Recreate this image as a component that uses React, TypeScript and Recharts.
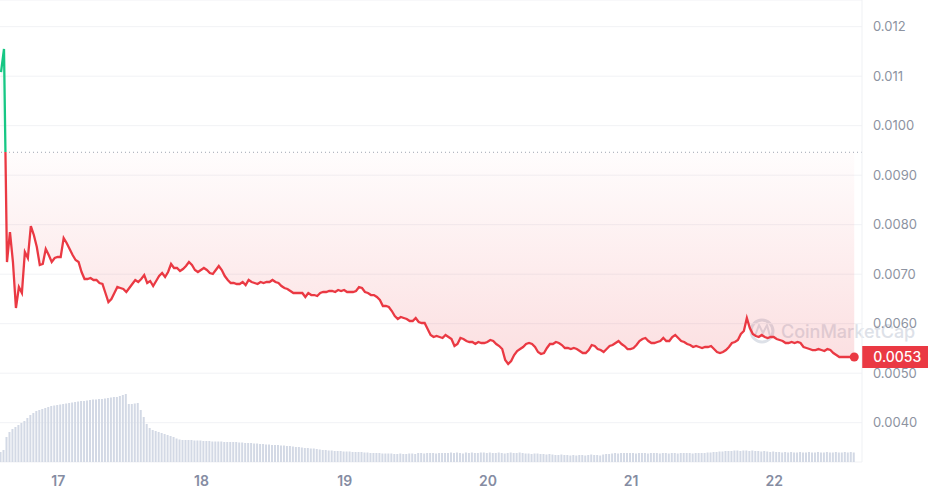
import {
  ComposedChart,
  Area,
  Line,
  Bar,
  XAxis,
  YAxis,
  CartesianGrid,
  ReferenceLine,
  ReferenceDot,
} from 'recharts';

const RED = '#ea3943';
const GREEN = '#16c784';
const AXIS_TEXT = '#8d93a1';

// half-hourly points, hours relative to the 17th 00:00
const START_HOUR = -9.6;
const STEP_HOURS = 0.5;
const BASELINE = 0.009463;

const DAY_TICKS = [0, 24, 48, 72, 96, 120];
const DAY_LABELS = ['17', '18', '19', '20', '21', '22'];

const PRICE_TICKS = [0.004, 0.005, 0.006, 0.007, 0.008, 0.009, 0.01, 0.011, 0.012];
const PRICE_TICK_LABELS = ['0.0040', '0.0050', '0.0060', '0.0070', '0.0080', '0.0090', '0.0100', '0.011', '0.012'];

const PRICES = [
  0.011084, 0.011549, 0.007246, 0.007852, 0.007246, 0.006317, 0.006741, 0.00662, 0.007448, 0.007327,
  0.007973, 0.007792, 0.007549, 0.007186, 0.007206, 0.007509, 0.007387, 0.007246, 0.007327, 0.007347,
  0.007347, 0.007731, 0.00763, 0.007509, 0.007387, 0.007286, 0.007246, 0.007044, 0.006903, 0.006903,
  0.006923, 0.006883, 0.006883, 0.006822, 0.006802, 0.00662, 0.006438, 0.006499, 0.00662, 0.006741,
  0.006721, 0.006701, 0.00664, 0.006721, 0.006802, 0.006883, 0.006842, 0.006903, 0.006983, 0.006822,
  0.006862, 0.006761, 0.006862, 0.006963, 0.007024, 0.006943, 0.007044, 0.007206, 0.007125, 0.007125,
  0.007064, 0.007105, 0.007165, 0.007246, 0.007186, 0.007085, 0.007044, 0.007085, 0.007125, 0.007085,
  0.007024, 0.007004, 0.007085, 0.007165, 0.007085, 0.006963, 0.006883, 0.006822, 0.006822, 0.006802,
  0.006802, 0.006842, 0.006781, 0.006883, 0.006842, 0.006822, 0.006802, 0.006842, 0.006822, 0.006842,
  0.006842, 0.006883, 0.006842, 0.006822, 0.006761, 0.006721, 0.006701, 0.00666, 0.00662, 0.00662,
  0.00662, 0.00662, 0.006539, 0.00662, 0.006579, 0.006579, 0.006559, 0.00662, 0.00664, 0.00664,
  0.00666, 0.00666, 0.00664, 0.00668, 0.00666, 0.00668, 0.00664, 0.00664, 0.00664, 0.00666,
  0.006741, 0.006721, 0.00664, 0.00662, 0.006579, 0.006579, 0.006539, 0.006478, 0.006357, 0.006357,
  0.006337, 0.006256, 0.006155, 0.006095, 0.006135, 0.006115, 0.006095, 0.006054, 0.006054, 0.006115,
  0.006034, 0.006014, 0.006014, 0.005893, 0.005772, 0.005731, 0.005751, 0.005731, 0.005711, 0.005772,
  0.005731, 0.005691, 0.005549, 0.00559, 0.005711, 0.005691, 0.00565, 0.00563, 0.00563, 0.00559,
  0.00563, 0.00561, 0.00561, 0.00563, 0.00567, 0.00565, 0.00559, 0.005549, 0.005488, 0.005266,
  0.005186, 0.005246, 0.005367, 0.005448, 0.005488, 0.005529, 0.00559, 0.00561, 0.00559, 0.005529,
  0.005428, 0.005387, 0.005408, 0.005509, 0.00559, 0.00559, 0.00563, 0.00561, 0.005569, 0.005509,
  0.005509, 0.005488, 0.005509, 0.005488, 0.005448, 0.005408, 0.005408, 0.005468, 0.005569, 0.005549,
  0.005488, 0.005468, 0.005428, 0.005488, 0.005549, 0.005569, 0.00561, 0.00565, 0.00559, 0.005549,
  0.005488, 0.005488, 0.005509, 0.005569, 0.00565, 0.005691, 0.005711, 0.00565, 0.00561, 0.00561,
  0.00563, 0.00565, 0.005711, 0.00565, 0.00565, 0.005731, 0.005772, 0.005711, 0.00565, 0.00563,
  0.00559, 0.005569, 0.005529, 0.005549, 0.005529, 0.005509, 0.005529, 0.005529, 0.005549, 0.005488,
  0.005428, 0.005408, 0.005428, 0.005468, 0.005529, 0.00561, 0.00563, 0.00567, 0.005792, 0.005852,
  0.006115, 0.005913, 0.005792, 0.005751, 0.005731, 0.005772, 0.005731, 0.005711, 0.005731, 0.005731,
  0.005691, 0.00567, 0.00565, 0.00561, 0.00561, 0.00563, 0.00561, 0.00563, 0.00561, 0.005529,
  0.005509, 0.005488, 0.005468, 0.005468, 0.005488, 0.005468, 0.005448, 0.005488, 0.005468, 0.005408,
  0.005367, 0.005327, 0.005327, 0.005327, 0.005327, 0.005327, 0.005327,
];

// volume, millions per half hour
const VOLUMES = [
  1.0, 1.2, 2.5, 3.0, 3.3, 3.5, 3.7, 3.9, 4.1, 4.4,
  4.7, 4.9, 5.1, 5.2, 5.3, 5.4, 5.5, 5.6, 5.65, 5.7,
  5.75, 5.8, 5.85, 5.9, 5.95, 6.0, 6.05, 6.1, 6.1, 6.15,
  6.2, 6.25, 6.25, 6.3, 6.3, 6.35, 6.4, 6.45, 6.5, 6.5,
  6.6, 6.7, 6.8, 5.8, 5.8, 5.85, 5.9, 5.2, 4.5, 3.8,
  3.4, 3.2, 3.1, 3.0, 2.9, 2.8, 2.7, 2.6, 2.5, 2.35,
  2.25, 2.2, 2.2, 2.2, 2.2, 2.15, 2.15, 2.15, 2.1, 2.1,
  2.1, 2.05, 2.05, 2.05, 2.05, 2.0, 2.0, 2.0, 2.0, 2.0,
  1.95, 1.95, 1.9, 1.9, 1.9, 1.85, 1.85, 1.8, 1.8, 1.75,
  1.75, 1.7, 1.7, 1.7, 1.65, 1.65, 1.6, 1.6, 1.55, 1.5,
  1.5, 1.45, 1.4, 1.4, 1.35, 1.35, 1.3, 1.25, 1.2, 1.2,
  1.15, 1.15, 1.1, 1.1, 1.1, 1.05, 1.05, 1.05, 1.0, 1.0,
  1.0, 1.0, 0.95, 0.95, 0.9, 0.9, 0.9, 0.9, 0.85, 0.85,
  0.85, 0.85, 0.8, 0.8, 0.85, 0.8, 0.8, 0.85, 0.85, 0.8,
  0.9, 0.9, 0.85, 0.9, 0.9, 0.9, 0.85, 0.9, 0.9, 0.9,
  0.9, 0.95, 0.9, 0.95, 0.9, 0.85, 0.95, 0.9, 0.95, 0.9,
  0.9, 0.95, 0.95, 0.9, 0.95, 0.9, 0.9, 0.95, 0.9, 0.85,
  0.9, 0.95, 0.9, 0.9, 0.95, 0.9, 0.85, 0.85, 0.8, 0.85,
  0.85, 0.8, 0.8, 0.75, 0.8, 0.75, 0.7, 0.7, 0.75, 0.7,
  0.7, 0.65, 0.7, 0.65, 0.7, 0.7, 0.65, 0.7, 0.75, 0.7,
  0.7, 0.65, 0.75, 0.8, 0.8, 0.85, 0.9, 0.85, 0.9, 0.9,
  0.9, 0.9, 0.9, 0.85, 0.9, 0.9, 0.9, 0.85, 0.9, 0.9,
  0.9, 0.85, 0.9, 0.9, 0.85, 0.9, 0.9, 0.85, 0.9, 0.9,
  0.9, 0.9, 0.85, 0.9, 0.9, 0.9, 0.9, 0.95, 0.95, 1.0,
  1.0, 1.05, 1.05, 1.1, 1.1, 1.1, 1.15, 1.15, 1.1, 1.15,
  1.15, 1.1, 1.15, 1.1, 1.1, 1.05, 1.1, 1.05, 1.0, 1.05,
  1.0, 1.0, 0.95, 1.0, 0.95, 1.0, 0.95, 0.95, 1.0, 0.95,
  0.95, 1.0, 0.95, 0.95, 1.0, 0.95, 0.95, 1.0, 0.95, 0.95,
  1.0, 0.95, 0.95, 1.0, 0.95, 1.0, 0.95,
];

const rows = PRICES.map((price, i) => ({
  t: START_HOUR + i * STEP_HOURS,
  price,
  volume: VOLUMES[i] ?? 0,
}));

const last = rows[rows.length - 1];
const maxP = Math.max(...PRICES);
const minP = Math.min(...PRICES);
const splitOffset = (maxP - BASELINE) / (maxP - minP);

const PriceTick = (props: any) => {
  const { x, y, payload } = props;
  const idx = PRICE_TICKS.indexOf(payload.value);
  return (
    <text x={x} y={y} dy="0.355em" textAnchor="start" fill={AXIS_TEXT} fontSize={13}>
      {idx >= 0 ? PRICE_TICK_LABELS[idx] : payload.value}
    </text>
  );
};

const LastPriceMarker = (props: any) => {
  const { cx, cy } = props;
  return (
    <g>
      <circle cx={cx} cy={cy} r={4.5} fill={RED} />
      <rect x={cx + 8} y={cy - 11} width={70} height={22} fill={RED} />
      <text x={cx + 19} y={cy} dy="0.355em" fill="#fff" fontSize={14} fontWeight={500}>
        {last.price.toFixed(4)}
      </text>
    </g>
  );
};

function Watermark() {
  return (
    <svg width={928} height={495} style={{ position: 'absolute', left: 0, top: 0 }}>
      <g fill="none" stroke="#dde1e8" strokeWidth={3}>
        <circle cx={762} cy={331} r={11} />
        <path d="M755 336 L759 325 L763 333 L767 325 L770 336" strokeWidth={2} />
      </g>
      <text x={781} y={338} fontSize={18} fill="#dde1e8" fontWeight={500}>
        CoinMarketCap
      </text>
    </svg>
  );
}

export default function App() {
  return (
    <div
      style={{
        position: 'absolute',
        left: 0,
        top: 0,
        width: 928,
        height: 495,
        background: '#fff',
        fontFamily: 'Inter, "Noto Sans", sans-serif',
      }}
    >
      <Watermark />
      <div style={{ position: 'absolute', left: 0, top: 0 }}>
        <ComposedChart width={928} height={495} data={rows} margin={{ top: 0, right: 0, bottom: 0, left: 0 }}>
          <defs>
            <linearGradient id="lineGrad" x1="0" y1="0" x2="0" y2="1">
              <stop offset={splitOffset} stopColor={GREEN} />
              <stop offset={splitOffset} stopColor={RED} />
            </linearGradient>
            <linearGradient id="fillGrad" x1="0" y1="0" x2="0" y2="1">
              <stop offset={0} stopColor={GREEN} stopOpacity={0.1} />
              <stop offset={splitOffset} stopColor={GREEN} stopOpacity={0.02} />
              <stop offset={splitOffset} stopColor={RED} stopOpacity={0.02} />
              <stop offset={1} stopColor={RED} stopOpacity={0.27} />
            </linearGradient>
          </defs>
          <CartesianGrid yAxisId="price" vertical={false} stroke="#f1f2f5" />
          <XAxis
            dataKey="t"
            type="number"
            domain={[-9.77, 134.7]}
            ticks={DAY_TICKS}
            tickFormatter={(v: number) => DAY_LABELS[DAY_TICKS.indexOf(v)] ?? ''}
            height={33}
            axisLine={false}
            tickLine={false}
            tickSize={0}
            tickMargin={14}
            tick={{ fill: '#858ca2', fontSize: 14, fontWeight: 600 }}
            allowDataOverflow
          />
          <YAxis
            yAxisId="price"
            orientation="right"
            width={66}
            domain={[0.003206, 0.012539]}
            ticks={PRICE_TICKS}
            tick={<PriceTick />}
            tickSize={0}
            tickMargin={11}
            tickLine={false}
            axisLine={{ stroke: '#eff1f4' }}
            allowDataOverflow
          />
          <YAxis yAxisId="vol" hide domain={[0, 46.2]} />
          <Bar yAxisId="vol" dataKey="volume" fill="#d3d9e5" barSize={2} isAnimationActive={false} activeBar={false} />
          <ReferenceLine yAxisId="price" y={BASELINE} stroke="#9ea4b2" strokeDasharray="1 3" />
          <Area
            yAxisId="price"
            type="linear"
            dataKey="price"
            baseValue={BASELINE}
            stroke="none"
            fill="url(#fillGrad)"
            dot={false}
            activeDot={false}
            isAnimationActive={false}
          />
          <Line
            yAxisId="price"
            type="linear"
            dataKey="price"
            stroke="url(#lineGrad)"
            strokeWidth={2.3}
            dot={false}
            activeDot={false}
            isAnimationActive={false}
          />
          <ReferenceDot yAxisId="price" x={last.t} y={last.price} r={4.5} shape={<LastPriceMarker />} />
        </ComposedChart>
      </div>
    </div>
  );
}
